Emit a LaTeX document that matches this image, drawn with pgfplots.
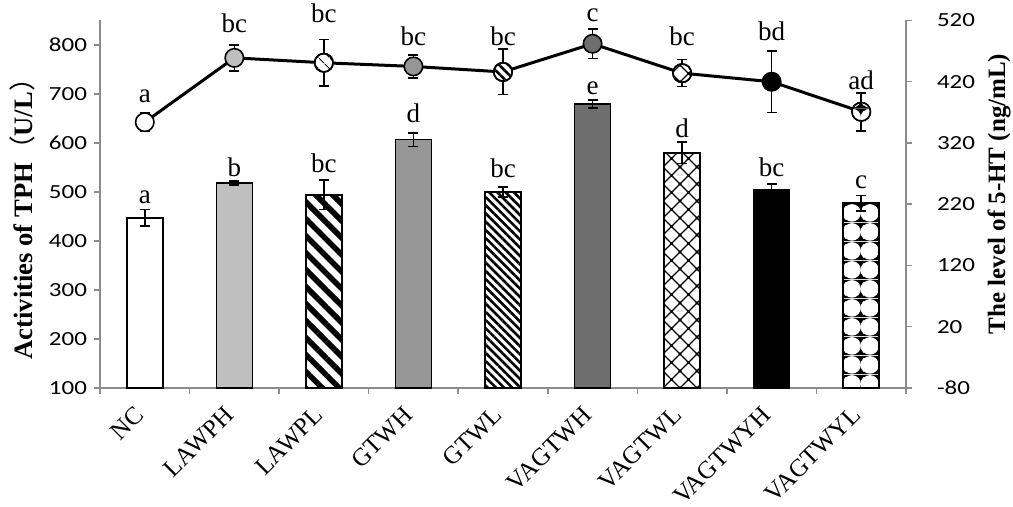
\documentclass[border=0pt]{standalone}
\usepackage{fontspec}
\setmainfont{Liberation Serif}
\newfontfamily\tickfont{Carlito}
\newfontfamily\cjk{Noto Sans CJK SC}
\usepackage{pgfplots}
\pgfplotsset{compat=1.18}
\usetikzlibrary{patterns,patterns.meta}
\definecolor{axgray}{HTML}{8C8C8C}
\definecolor{g1}{HTML}{BFBFBF}
\definecolor{g2}{HTML}{969696}
\definecolor{g3}{HTML}{6E6E6E}

\pgfdeclarepatternformonly{diamondlat}{\pgfqpoint{-1pt}{-1pt}}{\pgfqpoint{9.5pt}{9.5pt}}{\pgfqpoint{8.5pt}{8.5pt}}{%
  \pgfsetlinewidth{0.6pt}%
  \pgfpathmoveto{\pgfqpoint{-0.5pt}{-0.5pt}}\pgfpathlineto{\pgfqpoint{9pt}{9pt}}%
  \pgfpathmoveto{\pgfqpoint{-0.5pt}{9pt}}\pgfpathlineto{\pgfqpoint{9pt}{-0.5pt}}%
  \pgfusepath{stroke}%
  \pgfpathcircle{\pgfqpoint{4.25pt}{4.25pt}}{0.7pt}\pgfusepath{fill}%
  \pgfpathcircle{\pgfqpoint{0pt}{0pt}}{0.7pt}\pgfusepath{fill}%
}
\pgfdeclarepatterninherentlycolored{circgrid}{\pgfpointorigin}{\pgfqpoint{9pt}{9.5pt}}{\pgfqpoint{9pt}{9.5pt}}{%
  \pgfsetfillcolor{black}%
  \pgfpathrectangle{\pgfpointorigin}{\pgfqpoint{9pt}{9.5pt}}\pgfusepath{fill}%
  \pgfsetfillcolor{white}%
  \pgfpathcircle{\pgfqpoint{3.1pt}{4.75pt}}{4.6pt}\pgfusepath{fill}%
  \pgfpathcircle{\pgfqpoint{12.1pt}{4.75pt}}{4.6pt}\pgfusepath{fill}%
}

\pgfplotsset{
  eb/.style={error bars/.cd, y dir=both, y explicit,
    error bar style={line width=0.8pt, black},
    error mark options={rotate=90, mark size=2.5pt, line width=0.8pt, black}},
  barst/.style={ybar, bar width=18pt, bar shift=0pt, draw=black, line width=0.8pt},
  mk/.style={only marks, mark=*, mark size=4.6pt, mark options={draw=black, line width=0.8pt, #1}},
  common/.style={
    scale only axis, width=403pt, height=183.75pt,
    xmin=-0.5, xmax=8.5, clip=false,
    axis line style={draw=axgray, line width=0.75pt},
    tick align=outside, major tick length=3pt,
    tick style={draw=axgray, line width=0.75pt},
    /pgf/number format/assume math mode=true,
    yticklabel style={font=\tickfont\fontsize{10}{12}\selectfont, text=black},
    yticklabel={\scalebox{1.25}[1]{\pgfmathprintnumber{\tick}}},
  },
}

\begin{document}
\begin{tikzpicture}
\begin{axis}[common,
  ymin=100, ymax=850, ytick={100,200,...,800},
  axis x line*=bottom, axis y line*=left,
  xtick={0,...,8},
  xticklabels={NC,LAWPH,LAWPL,GTWH,GTWL,VAGTWH,VAGTWL,VAGTWYH,VAGTWYL},
  xtick style={draw=none},
  extra x ticks={-0.5,0.5,...,8.5}, extra x tick labels={},
  extra x tick style={xtick style={draw=axgray}},
  xticklabel style={font=\fontsize{12.5}{14}\selectfont, rotate=45, anchor=east},
  xticklabel shift=6pt,
  every axis y label/.style={at={(axis description cs:-0.0968,0.478)}, rotate=90, anchor=center,
     font=\bfseries\fontsize{13.3}{15}\selectfont},
  ylabel={Activities of TPH{\cjk\mdseries （}U/L{\cjk\mdseries ）}},
]
\addplot[barst, fill=white, eb] coordinates {(0,447) +- (0,17)};
\addplot[barst, fill=g1, eb] coordinates {(1,518) +- (0,4)};
\addplot[barst, pattern={Lines[angle=-45,distance=6pt,line width=2.8pt]}, eb] coordinates {(2,494) +- (0,30)};
\addplot[barst, fill=g2, eb] coordinates {(3,607) +- (0,14)};
\addplot[barst, pattern={Lines[angle=-45,distance=2.9pt,line width=1.3pt]}, eb] coordinates {(4,500) +- (0,10)};
\addplot[barst, fill=g3, eb] coordinates {(5,680) +- (0,8)};
\addplot[barst, pattern=diamondlat, eb] coordinates {(6,580) +- (0,22)};
\addplot[barst, fill=black, eb] coordinates {(7,505) +- (0,11)};
\addplot[barst, pattern=circgrid, eb] coordinates {(8,477) +- (0,16)};
\begin{scope}[font=\fontsize{13.5}{15}\selectfont]
\node at (axis cs:0,490) {a};
\node at (axis cs:1,551) {b};
\node at (axis cs:2,559) {bc};
\node at (axis cs:3,661) {d};
\node at (axis cs:4,549) {bc};
\node at (axis cs:5,712) {e};
\node at (axis cs:6,631) {d};
\node at (axis cs:7,551) {bc};
\node at (axis cs:8,520) {c};
\end{scope}
\end{axis}

\begin{axis}[common,
  ymin=-80, ymax=520, ytick={-80,20,...,520},
  axis y line*=right, axis x line=none,
  yticklabel shift=9pt,
  every axis y label/.style={at={(axis description cs:1.1154,0.528)}, rotate=90, anchor=center,
     font=\bfseries\fontsize{12.5}{14}\selectfont},
  ylabel={The level of 5-HT (ng/mL)},
]
\addplot[black, line width=1.5pt, mark=none, eb] coordinates {
(0,354) +- (0,15)
(1,459) +- (0,21)
(2,451) +- (0,38)
(3,445) +- (0,19)
(4,436) +- (0,37)
(5,482) +- (0,24)
(6,434) +- (0,22)
(7,420) +- (0,50)
(8,371) +- (0,31)
};
\addplot[mk={fill=white}] coordinates {(0,354)};
\addplot[mk={fill=g1}] coordinates {(1,459)};
\addplot[mk={fill=white}] coordinates {(2,451)};
\addplot[mk={pattern={Lines[angle=-45,distance=4pt,line width=0.6pt]}}] coordinates {(2,451)};
\addplot[mk={fill=g2}] coordinates {(3,445)};
\addplot[mk={fill=white}] coordinates {(4,436)};
\addplot[mk={pattern={Lines[angle=-45,distance=3.2pt,line width=1.3pt]}}] coordinates {(4,436)};
\addplot[mk={fill=g3}] coordinates {(5,482)};
\addplot[mk={fill=white}] coordinates {(6,434)};
\addplot[mk={pattern=diamondlat}] coordinates {(6,434)};
\addplot[mk={fill=black}] coordinates {(7,420)};
\addplot[mk={fill=white}] coordinates {(8,371)};
\addplot[mk={pattern=circgrid}] coordinates {(8,371)};
\begin{scope}[font=\fontsize{13.5}{15}\selectfont]
\node at (axis cs:0,397) {a};
\node at (axis cs:1,515) {bc};
\node at (axis cs:2,531) {bc};
\node at (axis cs:3,495) {bc};
\node at (axis cs:4,495) {bc};
\node at (axis cs:5,529) {c};
\node at (axis cs:6,494) {bc};
\node at (axis cs:7,502) {bd};
\node at (axis cs:8,422) {ad};
\end{scope}
\end{axis}
\pgfresetboundingbox
\path (-50pt,-59.5pt) rectangle (456.5pt,194pt);
\end{tikzpicture}
\end{document}
